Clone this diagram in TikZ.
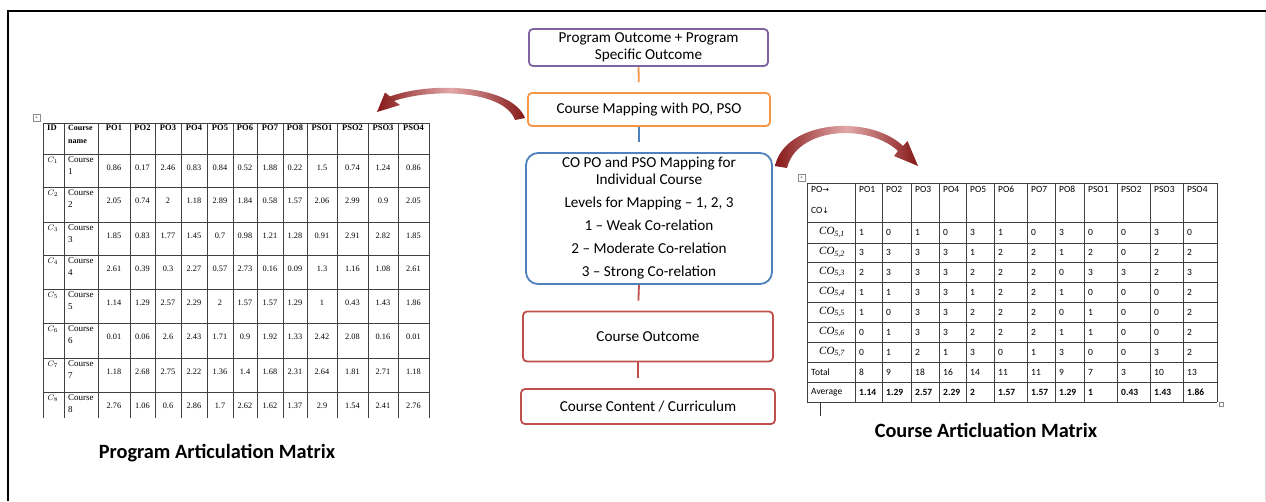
\documentclass[tikz,border=0pt]{standalone}
\usepackage{fontspec}
\setmainfont{Carlito}
\newfontfamily\tnr{Liberation Serif}
\newfontfamily\symf{DejaVu Sans}
\definecolor{poPurple}{HTML}{8064A2}
\definecolor{poOrange}{HTML}{F79646}
\definecolor{poBlue}{HTML}{4F81BD}
\definecolor{poRed}{HTML}{C0504D}
\definecolor{arcDark}{HTML}{861818}
\definecolor{arcLight}{HTML}{E2A8A8}
% column borders of the two tables
\def\lcol#1{\ifcase#1 43\or64\or98\or130\or155\or181\or207\or233\or257\or283\or307\or337\or368\or398\or429\fi}
\def\rcol#1{\ifcase#1 807\or855\or882\or911\or939\or966\or994\or1027\or1055\or1084\or1117\or1150\or1183\or1217\fi}
% row tops of the course table, row borders of the outcome table
\def\lrow#1{\ifcase#1 123\or154\or187\or222\or255\or289\or323\or358\or392\fi}
\def\rrow#1{\ifcase#1 183\or222\or243\or262\or282\or302\or322\or342\or362\or382\or402\fi}
\begin{document}
\begin{tikzpicture}[x=1pt,y=-1pt,
  flow/.style={draw, line width=1.8pt, rounded corners=4pt, fill=white, align=center,
               inner sep=0pt, font=\fontsize{15.2}{17}\selectfont},
  link/.style={line width=1.8pt, shorten >=10pt},
  grid/.style={draw=black!75, line width=0.8pt},
  ltxt/.style={font=\tnr\fontsize{8.3}{9}\selectfont, inner sep=0pt},
  lname/.style={font=\tnr\fontsize{9}{12}\selectfont, inner sep=0pt, align=left, anchor=north west},
  lhead/.style={font=\tnr\bfseries\fontsize{8.5}{13}\selectfont, inner sep=0pt},
  rtxt/.style={font=\fontsize{9.5}{11}\selectfont, inner sep=0pt, anchor=west},
  title/.style={font=\bfseries\fontsize{20.3}{24}\selectfont, inner sep=0pt},
  bendarrow/.style={left color=arcDark, right color=arcDark, middle color=arcLight, draw=none},
  handle/.style={draw=black!45, line width=0.5pt, fill=white, inner sep=0pt,
                 font=\fontsize{6}{6}\selectfont, text=black!60}
]
\useasboundingbox (0,0) rectangle (1266,501);
\fill[white] (0,0) rectangle (1266,501);

% page frame
\draw[line width=2.5pt] (1266,11) -- (8,11) -- (8,501);
\draw[black!15, line width=1pt] (1265,12) -- (1265,501);

% ---------- central flow ----------
\node[flow, draw=poPurple, minimum width=239pt, minimum height=37pt] (po) at (648.5,47.5)
  {Program Outcome + Program\\Specific Outcome};
\node[flow, draw=poOrange, minimum width=242pt, minimum height=33pt] (map) at (649,109.5)
  {Course Mapping with PO, PSO};
\node[flow, draw=poBlue, rounded corners=12pt, minimum width=246pt, minimum height=131pt] (copo) at (649,218.5)
  {CO PO and PSO Mapping for\\Individual Course\\[6pt]Levels for Mapping -- 1, 2, 3\\[6pt]1 -- Weak Co-relation\\[6pt]2 -- Moderate Co-relation\\[6pt]3 -- Strong Co-relation};
\node[flow, draw=poRed, minimum width=250pt, minimum height=50pt] (co) at (648,336.5)
  {Course Outcome};
\node[flow, draw=poRed, minimum width=254pt, minimum height=35pt] (cc) at (648,406.5)
  {Course Content / Curriculum};

\draw[link, poOrange] ([xshift=-10pt]po.south) -- ([xshift=-10pt]map.north);
\draw[link, poBlue] ([xshift=-10pt]map.south) -- ([xshift=-10pt]copo.north);
\draw[link, poRed] ([xshift=-10pt]copo.south) -- ([xshift=-10pt]co.north);
\draw[link, poRed] ([xshift=-10pt]co.south) -- ([xshift=-10pt]cc.north);

% ---------- curved arrows ----------
\shade[bendarrow] (525,118) .. controls (512,85) and (432,81) .. (390,96.5)
  -- (385,92.5) -- (377,112) -- (400,105) -- (394,101)
  .. controls (432,88) and (504,90) .. (515,120) -- cycle;
\shade[bendarrow] (775,166) .. controls (785,120) and (870,114) .. (903,146)
  -- (907.5,141) -- (918,166) -- (894,156) -- (898,151)
  .. controls (868,123) and (797,127) .. (787,168) -- cycle;

% ---------- program articulation matrix ----------
\node[handle, minimum size=6.5pt] (lplus) at (36.5,117.5) {+};
\foreach \x in {43,64,98,130,155,181,207,233,257,283,307,337,368,398,429}
  \draw[grid] (\x,123) -- (\x,418);
\foreach \y in {123,154,187,222,255,289,323,358,392}
  \draw[grid] (43,\y) -- (429,\y);
\node[lhead, anchor=north west] (lid) at (47,125) {ID};
\node[lhead, anchor=north west, align=left, font=\tnr\bfseries\fontsize{8}{13}\selectfont] (lcn) at (68,125) {Course\\name};
\foreach \h [count=\c] in {PO1,PO2,PO3,PO4,PO5,PO6,PO7,PO8,PSO1,PSO2,PSO3,PSO4} {
  \pgfmathtruncatemacro\ia{\c+1}
  \pgfmathtruncatemacro\ib{\c+2}
  \pgfmathsetmacro\xm{(\lcol{\ia}+\lcol{\ib})/2}
  \node[lhead, anchor=north] (lh\c) at (\xm,125) {\h};
}
\foreach \row [count=\r] in {
  {0.86,0.17,2.46,0.83,0.84,0.52,1.88,0.22,1.5,0.74,1.24,0.86},
  {2.05,0.74,2,1.18,2.89,1.84,0.58,1.57,2.06,2.99,0.9,2.05},
  {1.85,0.83,1.77,1.45,0.7,0.98,1.21,1.28,0.91,2.91,2.82,1.85},
  {2.61,0.39,0.3,2.27,0.57,2.73,0.16,0.09,1.3,1.16,1.08,2.61},
  {1.14,1.29,2.57,2.29,2,1.57,1.57,1.29,1,0.43,1.43,1.86},
  {0.01,0.06,2.6,2.43,1.71,0.9,1.92,1.33,2.42,2.08,0.16,0.01},
  {1.18,2.68,2.75,2.22,1.36,1.4,1.68,2.31,2.64,1.81,2.71,1.18},
  {2.76,1.06,0.6,2.86,1.7,2.62,1.62,1.37,2.9,1.54,2.41,2.76}} {
  \pgfmathsetmacro\yt{\lrow{\r}}
  \node[anchor=north west, inner sep=0pt, font=\fontsize{8.5}{10}\selectfont] (lc\r) at (47.5,\yt+3) {$C_{\r}$};
  \node[lname] (ln\r) at (68,\yt+2) {Course\\\r};
  \foreach \v [count=\c] in \row {
    \pgfmathtruncatemacro\ia{\c+1}
    \pgfmathtruncatemacro\ib{\c+2}
    \pgfmathsetmacro\xm{(\lcol{\ia}+\lcol{\ib})/2}
    \node[ltxt] (l\r-\c) at (\xm,\yt+13.5) {\v};
  }
}
\node[title] (pam) at (217,453) {Program Articulation Matrix};

% ---------- course articulation matrix ----------
\node[handle, minimum size=6.5pt] (rplus) at (801.5,177.5) {+};
\node[handle, minimum size=4.5pt] (rsize) at (1221,404) {};
\foreach \x in {807,855,882,911,939,966,994,1027,1055,1084,1117,1150,1183,1217}
  \draw[grid] (\x,183) -- (\x,402);
\foreach \y in {183,222,243,262,282,302,322,342,362,382,402}
  \draw[grid] (807,\y) -- (1217,\y);
\draw[black!80, line width=0.8pt] (820,403) -- (820,416);
\node[rtxt] (rpo) at (811,189) {PO{\symf\fontsize{8}{8}\selectfont →}};
\node[rtxt] (rco) at (811,210) {CO{\symf\fontsize{8}{8}\selectfont ↓}};
\foreach \h [count=\c] in {PO1,PO2,PO3,PO4,PO5,PO6,PO7,PO8,PSO1,PSO2,PSO3,PSO4} {
  \pgfmathsetmacro\xl{\rcol{\c}}
  \node[rtxt] (rh\c) at (\xl+4,189) {\h};
}
\foreach \row [count=\r] in {
  {1,0,1,0,3,1,0,3,0,0,3,0},
  {3,3,3,3,1,2,2,1,2,0,2,2},
  {2,3,3,3,2,2,2,0,3,3,2,3},
  {1,1,3,3,1,2,2,1,0,0,0,2},
  {1,0,3,3,2,2,2,0,1,0,0,2},
  {0,1,3,3,2,2,2,1,1,0,0,2},
  {0,1,2,1,3,0,1,3,0,0,3,2},
  {8,9,18,16,14,11,11,9,7,3,10,13}} {
  \pgfmathtruncatemacro\ib{\r+1}
  \pgfmathsetmacro\yc{(\rrow{\r}+\rrow{\ib})/2}
  \ifnum\r<8
    \node[rtxt, font=\tnr\fontsize{11}{12}\selectfont] (rc\r) at (819,\yc) {\textit{CO}\textsubscript{\fontsize{8}{8}\selectfont\textit{5,\r}}};
  \else
    \node[rtxt] (rc\r) at (811,\yc) {Total};
  \fi
  \foreach \v [count=\c] in \row {
    \pgfmathsetmacro\xl{\rcol{\c}}
    \node[rtxt] (r\r-\c) at (\xl+4,\yc) {\v};
  }
}
\node[rtxt] (rc9) at (811,392) {Average};
\foreach \v [count=\c] in {1.14,1.29,2.57,2.29,2,1.57,1.57,1.29,1,0.43,1.43,1.86} {
  \pgfmathsetmacro\xl{\rcol{\c}}
  \node[rtxt, font=\bfseries\fontsize{9.5}{11}\selectfont] (r9-\c) at (\xl+4,392) {\v};
}
\node[title] (cam) at (986,430) {Course Articluation Matrix};
\end{tikzpicture}
\end{document}
